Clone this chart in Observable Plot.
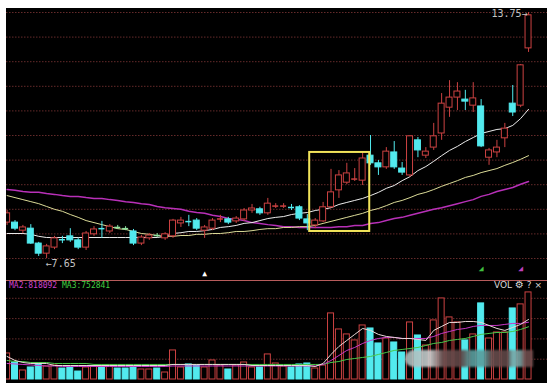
<!DOCTYPE html>
<html><head><meta charset="utf-8">
<script src="https://cdn.jsdelivr.net/npm/d3@7"></script>
<script src="https://cdn.jsdelivr.net/npm/@observablehq/plot@0.6"></script>
<style>
body{margin:0;background:#fff;}
#wrap{position:relative;width:555px;height:391px;overflow:hidden;background:#fff;}
#price,#vol{position:absolute;left:6px;}
#price{top:8px;} #vol{top:281px;}
#sep{position:absolute;left:6px;top:280px;width:541px;height:1px;background:#b85c5c;}
.lg{position:absolute;font-family:"DejaVu Sans Mono",monospace;font-size:8px;line-height:9px;white-space:nowrap;}
#wm{position:absolute;left:405px;top:350px;width:128px;height:17px;border-radius:9px 0 0 9px;
background:linear-gradient(to right,#a9bcbc 0%,#b4c4c4 12%,#d0d0d0 20%,#6e5050 30%,#5e4444 45%,#5aa0a0 52%,#5a9c9c 62%,#6a4e4e 68%,#5e4646 80%,#78a8a8 84%,#7aa6a6 90%,#6e4c4c 94%,#704e4e 100%);
filter:blur(1.2px);opacity:.9;}
svg{display:block;}
</style></head>
<body>
<div id="wrap">
  <div id="price"></div>
  <div id="sep"></div>
  <div id="vol"></div>
  <div id="wm"></div>
  <div class="lg" id="lg2" style="left:9px;top:281px;color:#d040d0;"></div>
  <div class="lg" id="lg3" style="left:62px;top:281px;color:#40d040;"></div>
  <div class="lg" style="left:494px;top:280px;color:#d8d8d8;font-family:'DejaVu Sans',sans-serif;font-size:9px;">VOL <span style="font-size:10px">⚙</span> ? ×</div>
</div>
<script>
// ---- data (price in yuan, volume in thousands) ----
const open  = [8.54,8.54,8.34,8.39,8.02,7.77,7.92,8.13,8.20,8.10,7.92,8.25,8.40,8.32,8.42,8.39,8.32,8.02,8.15,8.22,8.15,8.20,8.52,8.57,8.59,8.34,8.39,8.62,8.62,8.57,8.62,8.84,8.87,8.77,8.94,8.94,8.94,8.92,8.62,8.47,8.57,8.92,9.34,9.53,9.61,9.58,10.20,10.01,9.91,10.28,9.88,9.71,10.58,10.20,10.40,10.75,11.39,11.64,11.59,11.44,11.42,10.15,10.28,10.63,11.49,11.44,12.86];
const high  = [8.84,8.59,8.47,8.49,8.05,8.00,8.20,8.20,8.39,8.15,8.32,8.44,8.57,8.49,8.47,8.44,8.37,8.22,8.27,8.27,8.29,8.62,8.67,8.72,8.64,8.47,8.64,8.72,8.67,8.69,8.89,8.99,8.92,9.14,9.01,9.01,8.99,8.96,8.74,8.64,9.04,9.86,9.83,10.01,9.88,10.28,10.70,10.08,10.40,10.55,10.03,10.70,10.65,10.40,11.00,11.74,12.06,12.01,11.82,12.01,11.59,10.38,10.58,11.00,11.94,12.46,13.75];
const low   = [8.47,8.34,8.27,8.00,7.70,7.65,7.87,8.02,8.05,7.87,7.85,8.20,8.15,8.27,8.37,8.34,7.97,7.97,8.10,8.17,8.10,8.15,8.42,8.44,8.34,8.15,8.34,8.54,8.49,8.52,8.57,8.77,8.72,8.72,8.89,8.89,8.84,8.59,8.34,8.39,8.54,8.89,9.14,9.48,9.56,9.46,9.96,9.71,9.86,9.86,9.71,9.66,10.15,10.13,10.33,10.58,11.15,11.32,11.32,11.27,10.40,9.96,10.15,10.40,11.17,11.39,12.76];
const close = [8.77,8.39,8.42,8.02,7.77,7.95,8.15,8.10,8.10,7.92,8.27,8.37,8.38,8.44,8.42,8.39,8.02,8.17,8.22,8.22,8.25,8.59,8.59,8.56,8.39,8.42,8.59,8.64,8.54,8.64,8.84,8.89,8.77,9.01,8.96,8.96,8.89,8.64,8.52,8.59,8.92,9.29,9.71,9.76,9.63,10.13,10.01,9.91,10.30,9.91,9.78,10.68,10.33,10.30,10.68,11.49,11.64,11.79,11.54,11.62,10.43,10.33,10.40,10.87,11.27,12.44,13.68];
const maWhite  = [8.27,8.27,8.27,8.25,8.20,8.17,8.17,8.17,8.17,8.17,8.17,8.17,8.17,8.17,8.17,8.17,8.17,8.17,8.17,8.17,8.20,8.27,8.29,8.32,8.32,8.34,8.37,8.42,8.44,8.47,8.52,8.54,8.59,8.64,8.67,8.69,8.74,8.77,8.79,8.84,8.87,8.91,8.99,9.04,9.09,9.14,9.21,9.29,9.39,9.46,9.58,9.68,9.83,9.93,10.06,10.20,10.33,10.43,10.55,10.65,10.75,10.80,10.85,10.87,10.95,11.12,11.35];
const maYellow = [9.21,9.16,9.11,9.06,9.01,8.94,8.87,8.82,8.74,8.67,8.59,8.54,8.49,8.44,8.39,8.37,8.32,8.27,8.25,8.22,8.20,8.20,8.22,8.22,8.25,8.25,8.27,8.27,8.29,8.32,8.32,8.34,8.37,8.39,8.39,8.42,8.42,8.44,8.44,8.47,8.52,8.57,8.62,8.67,8.72,8.77,8.84,8.89,8.96,9.04,9.09,9.16,9.24,9.29,9.36,9.44,9.51,9.58,9.66,9.71,9.78,9.83,9.88,9.96,10.03,10.11,10.20];
const maPurple = [9.36,9.34,9.31,9.29,9.29,9.26,9.24,9.21,9.19,9.19,9.16,9.14,9.14,9.11,9.09,9.06,9.04,9.01,8.99,8.94,8.91,8.89,8.87,8.82,8.79,8.77,8.72,8.69,8.64,8.62,8.59,8.54,8.52,8.49,8.47,8.44,8.44,8.42,8.42,8.42,8.42,8.42,8.44,8.44,8.47,8.47,8.52,8.54,8.59,8.64,8.67,8.72,8.77,8.82,8.87,8.91,8.96,9.01,9.06,9.11,9.19,9.24,9.31,9.36,9.41,9.49,9.56];
const volume = [372,243,129,172,229,186,200,157,172,114,172,186,186,200,157,157,186,143,143,157,100,415,172,215,200,172,272,200,143,200,243,172,172,358,229,186,172,215,229,157,200,944,715,644,558,772,729,515,586,529,386,815,629,486,844,1158,887,815,558,644,1087,586,672,672,1015,1073,1244];
const volMa1 = [329,272,243,229,229,229,200,200,200,200,200,200,200,200,200,200,200,200,200,200,200,215,215,215,215,215,215,215,215,215,215,200,200,200,200,200,200,200,200,186,229,358,472,558,644,729,701,644,615,601,586,586,572,558,701,758,815,815,829,829,815,772,729,701,744,787,858];
const volMa2 = [229,222,215,208,200,193,193,186,186,186,186,186,186,186,186,186,186,186,186,186,186,193,193,193,193,193,193,193,193,193,193,193,193,193,193,193,193,193,193,193,215,272,343,415,458,515,558,586,601,601,586,586,586,586,615,658,686,715,729,758,772,772,772,787,801,801,818];
const volMa3 = [272,257,257,243,243,243,229,229,229,229,229,215,215,215,215,215,215,215,215,215,215,215,215,215,215,215,215,215,215,215,215,215,215,215,215,215,215,215,215,215,215,243,257,286,300,315,329,358,386,415,429,443,458,486,515,529,558,572,586,615,644,658,672,672,686,715,753];
const priceGrid = [7.65,8.26,8.87,9.48,10.09,10.70,11.31,11.92,12.53,13.14,13.75];
const volGrid = [290,580,870,1160];
const legendText = ["MA2:818092","MA3:752841"];
const highlight = [{from:38.3, to:45.9, low:8.32, high:10.28}];
const signals = [{i:25, p:7.28, s:"▲", col:"#ffffff"},{i:60, p:7.40, s:"◢", col:"#40c040"},{i:65, p:7.40, s:"◢", col:"#c040c0"}];

// ---- build ----
const RED="#cc4242", CYAN="#52eaee", FLAT="#8fe3a0", GRID="#642a2a";
const rows = open.map((o,i)=>({i,o,h:high[i],l:low[i],c:close[i],v:volume[i],
  m1:maWhite[i],m2:maYellow[i],m3:maPurple[i],v1:volMa1[i],v2:volMa2[i],v3:volMa3[i]}));
const kind = d => d.c - d.o > 0.005 ? "up" : (d.c - d.o < -0.005 ? "down" : "flat");
const col = d => kind(d)==="up" ? RED : kind(d)==="down" ? CYAN : FLAT;
const bodies = rows.filter(d => Math.abs(d.c-d.o) >= 0.05);
const dojis = rows.filter(d => Math.abs(d.c-d.o) < 0.05);
const hw = 0.38;
const xdom = [-0.076, 68.4];

const hiIdx = high.indexOf(d3.max(high)), loIdx = low.indexOf(d3.min(low));
const hiLabel = [{i:hiIdx, p:high[hiIdx], t:high[hiIdx].toFixed(2)+"→"}];
const loLabel = [{i:loIdx, p:low[loIdx], t:"←"+low[loIdx].toFixed(2)}];

const price = Plot.plot({
  width:541, height:272, margin:0,
  style:{background:"#000", fontFamily:"DejaVu Sans Mono"},
  x:{domain:xdom, axis:null},
  y:{domain:[7.65,13.75], range:[250,4], axis:null},
  color:{type:"identity"},
  marks:[
    Plot.ruleY(priceGrid, {stroke:GRID, strokeDasharray:"1.5,1.5", strokeWidth:1}),
    Plot.line(rows, {x:"i", y:"m3", stroke:"#b830b8", strokeWidth:1.5}),
    Plot.line(rows, {x:"i", y:"m2", stroke:"#dcdc98", strokeWidth:1}),
    Plot.line(rows, {x:"i", y:"m1", stroke:"#ececec", strokeWidth:1}),
    Plot.ruleX(rows, {x:"i", y1:"l", y2:"h", stroke:col, strokeWidth:1}),
    Plot.rect(bodies, {x1:d=>d.i-hw, x2:d=>d.i+hw, y1:"o", y2:"c",
      fill:d=>kind(d)==="up"?"#000":CYAN, stroke:col, strokeWidth:1}),
    Plot.ruleY(dojis, {x1:d=>d.i-hw, x2:d=>d.i+hw, y:d=>(d.o+d.c)/2, stroke:col, strokeWidth:1.5}),
    Plot.rect(highlight, {x1:"from", x2:"to", y1:"low", y2:"high", fill:"none", stroke:"#f2e45a", strokeWidth:2}),
    Plot.text(hiLabel, {x:"i", y:"p", text:"t", textAnchor:"end", dx:-1, dy:1, fill:"#c4c4c4", fontSize:10}),
    Plot.text(loLabel, {x:"i", y:"p", text:"t", textAnchor:"start", dx:-1, dy:5, fill:"#c4c4c4", fontSize:10}),
    Plot.text(signals, {x:"i", y:"p", text:"s", fill:"col", fontSize:8})
  ]
});
document.getElementById("price").appendChild(price);

const vol = Plot.plot({
  width:541, height:102, margin:0,
  style:{background:"#000"},
  x:{domain:xdom, axis:null},
  y:{domain:[0,1400], range:[98,0], axis:null},
  color:{type:"identity"},
  marks:[
    Plot.ruleY(volGrid, {stroke:GRID, strokeDasharray:"1.5,1.5", strokeWidth:1}),
    Plot.rect(rows, {x1:d=>d.i-hw, x2:d=>d.i+hw, y1:0, y2:"v",
      fill:d=>kind(d)==="up"?"#000":CYAN, stroke:d=>kind(d)==="up"?RED:CYAN, strokeWidth:1}),
    Plot.line(rows, {x:"i", y:"v3", stroke:"#48c848", strokeWidth:1}),
    Plot.line(rows, {x:"i", y:"v2", stroke:"#c838c8", strokeWidth:1}),
    Plot.line(rows, {x:"i", y:"v1", stroke:"#eadada", strokeWidth:1})
  ]
});
document.getElementById("vol").appendChild(vol);
document.getElementById("lg2").textContent = legendText[0];
document.getElementById("lg3").textContent = legendText[1];
</script>
</body></html>
